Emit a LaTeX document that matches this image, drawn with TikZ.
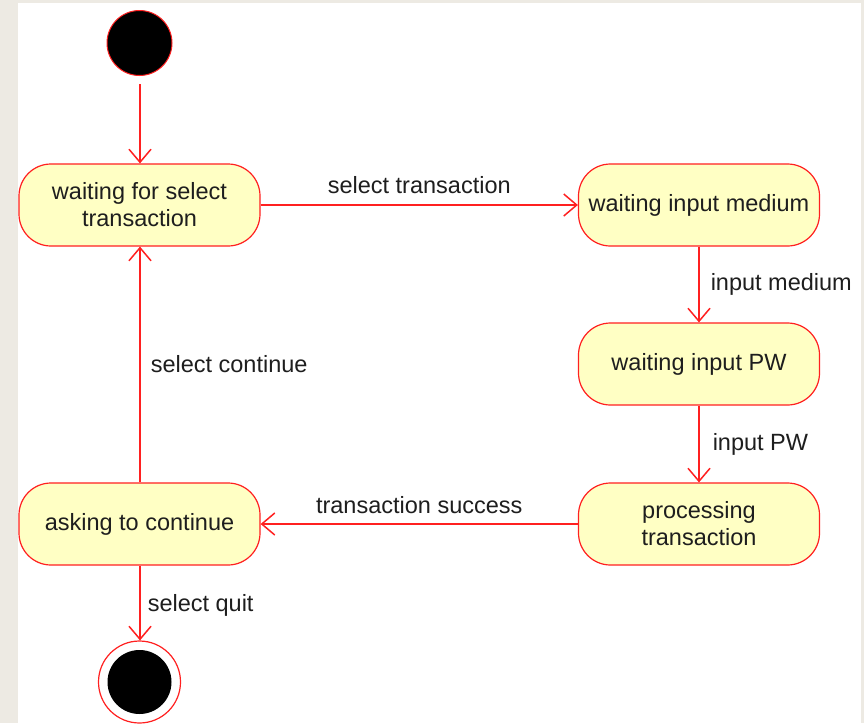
\documentclass[tikz,border=0pt]{standalone}
\usepackage{fontspec}
\setmainfont{Liberation Sans}
\usetikzlibrary{arrows.meta}
\definecolor{bgbeige}{HTML}{EDEAE3}
\definecolor{umlred}{HTML}{FF2020}
\definecolor{umlfill}{HTML}{FFFFC4}
\definecolor{txt}{HTML}{1E1E1E}
\tikzset{
  state/.style={draw=umlred, fill=umlfill, line width=1.2pt, rounded corners=32pt,
    minimum width=241pt, minimum height=82pt, align=center, text=txt,
    font=\fontsize{23.5}{27}\selectfont, inner sep=0pt},
  trans/.style={draw=umlred, line width=1.5pt, -{Straight Barb[length=13pt,width=22pt,line width=1.5pt]}},
  lbl/.style={text=txt, font=\fontsize{23.5}{27}\selectfont, inner sep=0pt},
}
\begin{document}
\begin{tikzpicture}[x=1pt,y=-1pt]
\fill[bgbeige] (0,0) rectangle (864,723);
\fill[white] (18,3) rectangle (861,723);
\useasboundingbox (0,0) rectangle (864,723);

\node[circle, draw=umlred, line width=1pt, fill=black, minimum size=65pt, inner sep=0pt] (start) at (139.5,43) {};
\node[state] (wsel) at (139.5,205) {waiting for select\\transaction};
\node[state] (wmed) at (699,205) {waiting input medium};
\node[state] (wpw) at (699,364) {waiting input PW};
\node[state] (proc) at (699,524) {processing\\transaction};
\node[state] (ask) at (139.5,524) {asking to continue};
\node[circle, draw=umlred, line width=1.2pt, fill=white, minimum size=82pt, inner sep=0pt] (stop) at (139.5,682) {};
\node[circle, fill=black, minimum size=64pt, inner sep=0pt] (stopin) at (stop.center) {};

\draw[trans, shorten <=8pt] (start.south -| 140,0) -- (wsel.north -| 140,0);
\draw[trans] (wsel.east) -- node[lbl, yshift=20pt] {select transaction} (wmed.west);
\draw[trans] (wmed) -- node[lbl, anchor=west, xshift=11pt] {input medium} (wpw);
\draw[trans] (wpw) -- node[lbl, anchor=west, xshift=13pt] {input PW} (proc);
\draw[trans] (proc.west) -- node[lbl, yshift=19pt] {transaction success} (ask.east);
\draw[trans] (ask.north -| 140,0) -- node[lbl, anchor=west, xshift=10pt] {select continue} (wsel.south -| 140,0);
\draw[trans] (ask.south -| 140,0) -- node[lbl, anchor=west, xshift=7pt, yshift=-2pt] {select quit} (stop.north -| 140,0);
\end{tikzpicture}
\end{document}
